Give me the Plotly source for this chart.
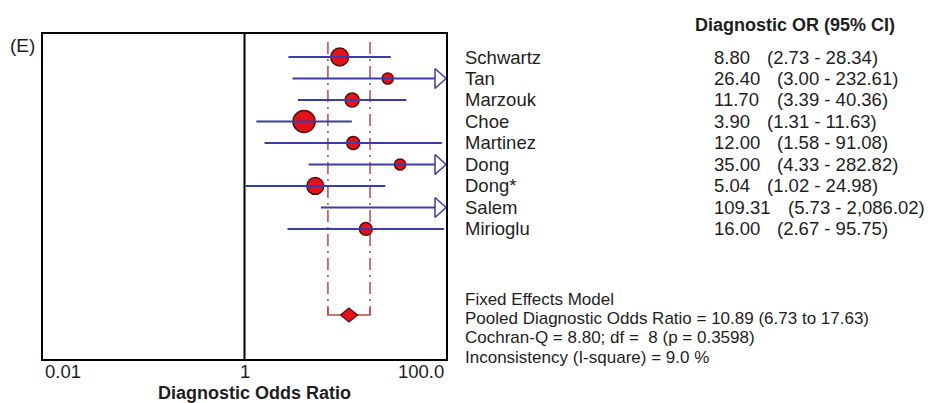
import numpy as np
import plotly.graph_objects as go

# ---------------- data ----------------
studies = ["Schwartz", "Tan", "Marzouk", "Choe", "Martinez", "Dong", "Dong*", "Salem", "Mirioglu"]
dor = [8.80, 26.40, 11.70, 3.90, 12.00, 35.00, 5.04, 109.31, 16.00]
ci_low = [2.73, 3.00, 3.39, 1.31, 1.58, 4.33, 1.02, 5.73, 2.67]
ci_high = [28.34, 232.61, 40.36, 11.63, 91.08, 282.82, 24.98, 2086.02, 95.75]
weight_pct = [16.3, 6.3, 10.2, 25.2, 8.8, 6.3, 14.5, 4.2, 8.4]

model_name = "Fixed Effects Model"
pooled_dor = 10.89
pooled_low = 6.73
pooled_high = 17.63
cochran_q = 8.80
q_df = 8
q_p = 0.3598
i_square = 9.0

tick_vals = [0.01, 1, 100]
tick_labels = ["0.01", "1", "100.0"]
x_title = "Diagnostic Odds Ratio"
col_header = "Diagnostic OR (95% CI)"
panel_label = "(E)"

# ---------------- layout constants ----------------
W, H = 933, 403
PL, PR, PT, PB = 43, 446, 34, 359
X_MIN, X_MAX = 0.01, 100.0
ROW_TOP, ROW_BOT = -0.07, 15.05
POOLED_ROW = 13
FONT = "Liberation Sans, Arial, sans-serif"
FS = 18.5
TXT = "#1e1e1e"
RED = "#e6121b"
DARK = "#5a0a0a"
BLUE = "#3c3ca6"
DASHC = "#b34a4a"

px_per_dec = (PR - PL) / (np.log10(X_MAX) - np.log10(X_MIN))
px_per_row = (PB - PT) / (ROW_BOT - ROW_TOP)

rows = list(range(1, len(studies) + 1))

fig = go.Figure()

# vertical line of no effect
fig.add_trace(go.Scatter(x=[1, 1], y=[ROW_TOP, ROW_BOT], mode="lines",
                         line=dict(color="black", width=2), hoverinfo="skip"))

# pooled CI dash-dot lines
dash_top = ROW_TOP + 8 / px_per_row
fig.add_trace(go.Scatter(x=[pooled_low, pooled_low, None, pooled_high, pooled_high],
                         y=[dash_top, POOLED_ROW, None, dash_top, POOLED_ROW],
                         mode="lines", line=dict(color=DASHC, width=1.5, dash="12px,5px,2px,5px"),
                         hoverinfo="skip"))
brk = 7 / px_per_row
fig.add_trace(go.Scatter(x=[pooled_low, pooled_low, pooled_high, pooled_high],
                         y=[POOLED_ROW - brk, POOLED_ROW, POOLED_ROW, POOLED_ROW - brk],
                         mode="lines", line=dict(color=DASHC, width=1.5), hoverinfo="skip"))

# study markers (only those inside the axis)
mx, my, ms = [], [], []
for v, r, w in zip(dor, rows, weight_pct):
    if X_MIN <= v <= X_MAX:
        mx.append(v); my.append(r); ms.append(4.4 * np.sqrt(w))
fig.add_trace(go.Scatter(x=mx, y=my, mode="markers",
                         marker=dict(size=ms, color=RED, opacity=1,
                                     line=dict(color=DARK, width=1.5)),
                         hoverinfo="skip"))

# CI lines
arrow_w = 11 / px_per_dec
arrow_h = 10 / px_per_row
lx, ly = [], []
ax, ay = [], []
for lo, hi, r in zip(ci_low, ci_high, rows):
    a = max(lo, X_MIN)
    b = min(hi, X_MAX)
    if hi > X_MAX:
        b = X_MAX * 10 ** (-arrow_w)
        ax += [b, X_MAX, b, b, None]
        ay += [r - arrow_h, r, r + arrow_h, r - arrow_h, None]
    lx += [a, b, None]
    ly += [r, r, None]
fig.add_trace(go.Scatter(x=lx, y=ly, mode="lines", line=dict(color=BLUE, width=2),
                         hoverinfo="skip"))
fig.add_trace(go.Scatter(x=ax, y=ay, mode="lines", fill="toself", fillcolor="white",
                         line=dict(color=BLUE, width=1.5), hoverinfo="skip"))

# pooled diamond
dw = 8.5 / px_per_dec
dh = 7 / px_per_row
fig.add_trace(go.Scatter(
    x=[pooled_dor * 10 ** (-dw), pooled_dor, pooled_dor * 10 ** dw, pooled_dor, pooled_dor * 10 ** (-dw)],
    y=[POOLED_ROW, POOLED_ROW - dh, POOLED_ROW, POOLED_ROW + dh, POOLED_ROW],
    mode="lines", fill="toself", fillcolor=RED, line=dict(color=DARK, width=1.2),
    hoverinfo="skip"))

# ---------------- annotations ----------------
ann = []
def ptext(text, x_px, y_px, anchor="left", size=FS, bold=False):
    t = f"<b>{text}</b>" if bold else text
    ann.append(dict(text=t, xref="paper", yref="paper", x=x_px / W, y=1 - y_px / H,
                    xanchor=anchor, yanchor="middle", showarrow=False,
                    font=dict(family=FONT, size=size, color=TXT)))

# approximate Arial advance widths (em) for number strings
def num_width(s, size):
    em = sum(0.278 if ch in ".," else 0.556 for ch in s)
    return em * size

ptext(panel_label, 8, 45, size=19)
ptext(col_header, 693, 25, size=18, bold=True)

VAL_X = 712
GAP = 17
for s, v, lo, hi, r in zip(studies, dor, ci_low, ci_high, rows):
    vs = f"{v:,.2f}"
    cs = f"({lo:,.2f} - {hi:,.2f})"
    for txt, xp in [(s, 463), (vs, VAL_X), (cs, VAL_X + num_width(vs, FS) + GAP)]:
        ann.append(dict(text=txt, xref="paper", yref="y", x=xp / W, y=r, xanchor="left",
                        yanchor="middle", showarrow=False,
                        font=dict(family=FONT, size=FS, color=TXT)))

NB = "\u00a0"
SFS = 17
LS = 19.3
STAT_Y0 = 357.2 - 3 * LS
stats_lines = [
    model_name,
    f"Pooled Diagnostic Odds Ratio = {pooled_dor:.2f} ({pooled_low:.2f} to {pooled_high:.2f})",
    f"Cochran-Q = {cochran_q:.2f}; df = {NB}{q_df} (p = {q_p:.4f})",
    f"Inconsistency (I-square) = {i_square:.1f} %",
]
for k, line in enumerate(stats_lines):
    ptext(line, 463, STAT_Y0 + k * LS, size=SFS)

anchors = ["left", "center", "right"]
for tv, tl, an in zip(tick_vals, tick_labels, anchors):
    ann.append(dict(text=tl, xref="x", yref="paper", x=np.log10(tv), y=1 - 371 / H,
                    xanchor=an, yanchor="middle", showarrow=False,
                    font=dict(family=FONT, size=FS, color=TXT)))
ptext(x_title, 254.5, 393, anchor="center", size=18, bold=True)

fig.update_layout(
    width=W, height=H, margin=dict(l=0, r=0, t=0, b=0),
    paper_bgcolor="white", plot_bgcolor="white", showlegend=False,
    annotations=ann,
    xaxis=dict(type="log", range=[np.log10(X_MIN), np.log10(X_MAX)],
               domain=[PL / W, PR / W], showgrid=False, zeroline=False,
               showticklabels=False, ticks="", showline=True, mirror=True,
               linecolor="black", linewidth=2),
    yaxis=dict(range=[ROW_BOT, ROW_TOP], domain=[1 - PB / H, 1 - PT / H],
               showgrid=False, zeroline=False, showticklabels=False, ticks="",
               showline=True, mirror=True, linecolor="black", linewidth=2),
)

fig.write_html("out.html")
